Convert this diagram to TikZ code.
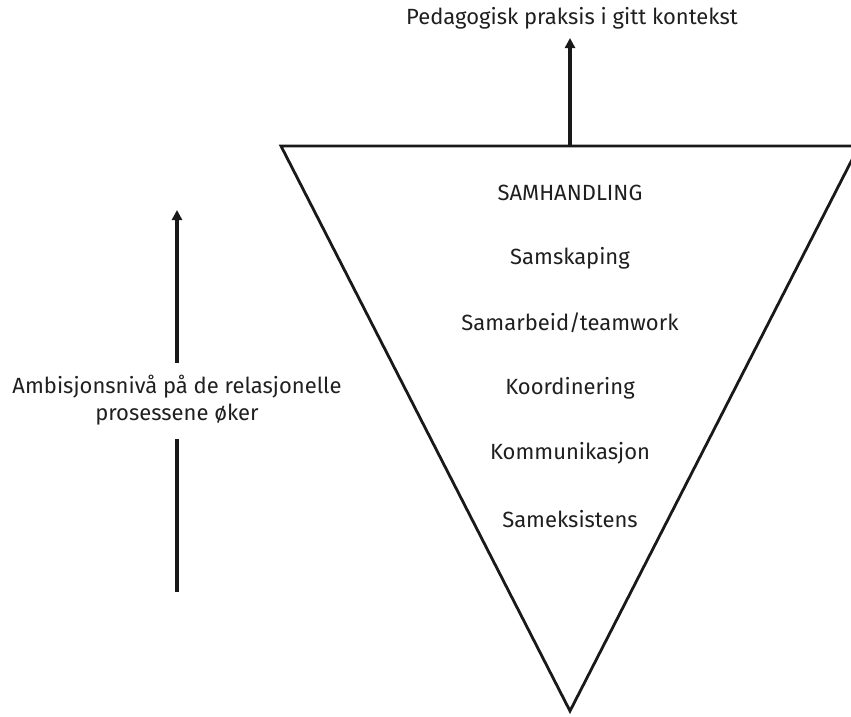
\documentclass[tikz,border=0pt]{standalone}
\usepackage{fontspec}
\setmainfont{Fira Sans}
\usetikzlibrary{arrows.meta}
\begin{document}
\begin{tikzpicture}[x=1pt,y=-1pt,
  lbl/.style={font=\fontsize{22}{27.5}\selectfont, text=black!88, inner sep=0pt, align=center},
  edge/.style={line width=2.8pt, black!90},
  up/.style={line width=3.2pt, black!90, -{Triangle[width=10pt,length=10pt]}}]
\useasboundingbox (0,0) rectangle (851,716);
\begin{scope}
  \clip (0,0) rectangle (851,716);
  % inverted triangle, right corner runs past the edge
  \coordinate (tl) at (281,146);
  \coordinate (tr) at (859,146);
  \coordinate (apex) at (570,711);
  \coordinate (topmid) at (570,146);
  \draw[edge, line join=miter] (tl) -- (tr) -- (apex) -- cycle;
\end{scope}
% levels of collaboration
\node[lbl] (l1) at (570,193) {SAMHANDLING};
\node[lbl] (l2) at (570,258) {Samskaping};
\node[lbl] (l3) at (570,323) {Samarbeid/teamwork};
\node[lbl] (l4) at (570,388) {Koordinering};
\node[lbl] (l5) at (570,453) {Kommunikasjon};
\node[lbl] (l6) at (570,519) {Sameksistens};
% outcome on top
\node[lbl] (title) at (572,18) {Pedagogisk praksis i gitt kontekst};
\coordinate (tip) at (570,38);
\draw[up] (topmid) -- (tip);
% ambition arrow on the left
\node[lbl] (amb) at (177,400) {Ambisjonsnivå på de relasjonelle\\prosessene øker};
\coordinate (ltop) at (177,210);
\coordinate (lbot) at (177,592);
\coordinate (lgapT) at (177,363);
\coordinate (lgapB) at (177,439);
\draw[line width=3.2pt, black!90] (lbot) -- (lgapB);
\draw[up] (lgapT) -- (ltop);
\end{tikzpicture}
\end{document}
